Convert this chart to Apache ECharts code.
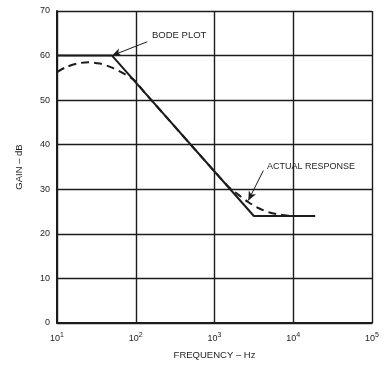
<!DOCTYPE html>
<html><head><meta charset="utf-8">
<script src="https://cdn.jsdelivr.net/npm/echarts@6/dist/echarts.min.js"></script>
<style>html,body{margin:0;padding:0;background:#fff}#c{width:386px;height:365px}</style>
</head><body><div id="c"></div>
<script>
// Bode plot (asymptotic) corners
const bodeFreq = [10, 50, 3160, 19000];
const bodeGain = [60, 60, 24, 24];
// Actual response (dashed)
const actualFreq = [10, 13, 18, 25, 35, 50, 70, 95, 130, 1000, 1500, 2000, 2700, 3600, 5000, 7000, 10000];
const actualGain = [56.3, 57.4, 58.2, 58.5, 58.2, 57.3, 56.0, 54.5, 51.7, 34.0, 30.6, 28.8, 27.1, 25.8, 24.8, 24.3, 24.0];
// Axis ticks
const yTicks = [0, 10, 20, 30, 40, 50, 60, 70];
const xExponents = [1, 2, 3, 4, 5];
// Annotation arrows (data coordinates)
const bodeArrow = [[140, 63.1], [50, 60]];
const actualArrow = [[4170, 34.2], [2690, 27.5]];

const chart = echarts.init(document.getElementById('c'), null, {renderer: 'canvas'});
const lineCol = '#1c1c1c';
const txtCol = '#1e1e1e';
const font = 'Liberation Sans, Arial, sans-serif';

chart.setOption({
  backgroundColor: '#ffffff',
  animation: false,
  grid: {left: 57, right: 14, top: 11, bottom: 40},
  xAxis: {
    type: 'log', logBase: 10, min: 10, max: 100000,
    axisLine: {show: true, lineStyle: {color: lineCol, width: 2}},
    axisTick: {show: false},
    minorTick: {show: false},
    splitLine: {show: true, lineStyle: {color: lineCol, width: 1.4}},
    axisLabel: {
      margin: 8,
      formatter: function (v) {
        const e = Math.round(Math.log10(v));
        return '{b|10}{s|' + e + '}';
      },
      rich: {
        b: {fontSize: 9, fontFamily: font, color: txtCol, padding: [3, 0, 0, 0]},
        s: {fontSize: 7, fontFamily: font, color: txtCol, padding: [0, 0, 3, 0]}
      }
    },
    name: 'FREQUENCY – Hz', nameLocation: 'middle', nameGap: 27,
    nameTextStyle: {fontSize: 9.5, fontFamily: font, color: txtCol}
  },
  yAxis: {
    type: 'value', min: 0, max: 70, interval: 10,
    axisLine: {show: true, lineStyle: {color: lineCol, width: 2}},
    axisTick: {show: false},
    splitLine: {show: true, lineStyle: {color: lineCol, width: 1.4}},
    axisLabel: {margin: 7, fontSize: 9, fontFamily: font, color: txtCol},
    name: 'GAIN – dB', nameLocation: 'middle', nameGap: 33, nameRotate: 90,
    nameTextStyle: {fontSize: 9.5, fontFamily: font, color: txtCol}
  },
  series: [
    {
      type: 'line', name: 'Actual',
      data: actualFreq.map((f, i) => [f, actualGain[i]]),
      showSymbol: false, smooth: 0.3, z: 2,
      lineStyle: {color: lineCol, width: 2, type: [8, 5]}
    },
    {
      type: 'line', name: 'Bode',
      data: bodeFreq.map((f, i) => [f, bodeGain[i]]),
      showSymbol: false, z: 3,
      lineStyle: {color: lineCol, width: 2},
      markLine: {
        silent: true, animation: false,
        symbol: ['none', 'arrow'], symbolSize: [6, 9],
        lineStyle: {color: lineCol, width: 1, type: 'solid'},
        label: {show: false},
        data: [
          [{coord: bodeArrow[0]}, {coord: bodeArrow[1]}],
          [{coord: actualArrow[0]}, {coord: actualArrow[1]}]
        ]
      }
    }
  ],
  graphic: [
    {type: 'text', left: 152, top: 30, style: {text: 'BODE PLOT', font: '9.5px ' + font, fill: txtCol}},
    {type: 'text', left: 267, top: 162, style: {text: 'ACTUAL RESPONSE', font: '9px ' + font, fill: txtCol}}
  ]
});
</script></body></html>
